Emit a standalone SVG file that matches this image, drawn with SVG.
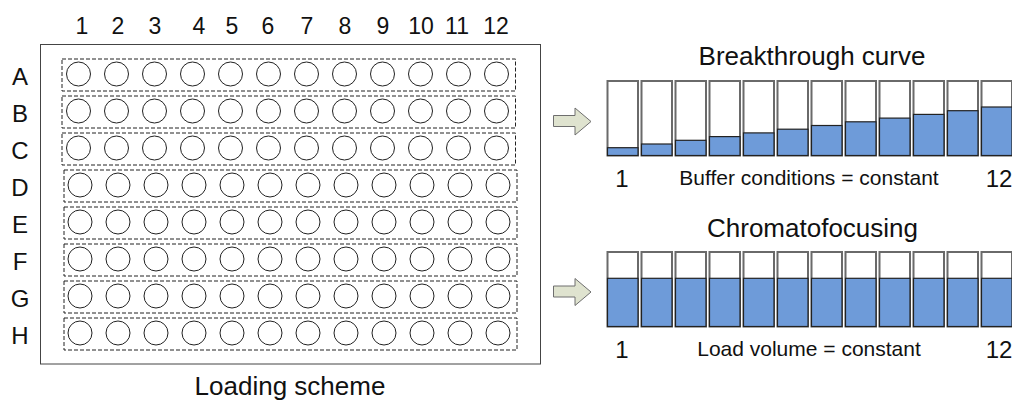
<svg xmlns="http://www.w3.org/2000/svg" width="1012" height="401" viewBox="0 0 1012 401">
<style>
text{font-family:"Liberation Sans",Arial,sans-serif;fill:#111}
.lbl{font-size:23px;text-anchor:middle}
.rl{font-size:24px;text-anchor:middle}
.ttl{font-size:26px;text-anchor:middle}
.sub{font-size:21px;text-anchor:middle}
.row{fill:none;stroke:#222;stroke-width:1;stroke-dasharray:4 2}
.well{fill:#fff;stroke:#222;stroke-width:1}
.bar{fill:#fff;stroke:#6a6a6a;stroke-width:2}
.liq{fill:#6e9bd9;stroke:#222;stroke-width:1.2}
.arr{fill:#dfe3cf;stroke:#6e6e6e;stroke-width:1}
</style>
<rect width="1012" height="401" fill="#fff"/>
<g id="plate">
<rect x="40.5" y="44.5" width="500" height="319.5" fill="#fff" stroke="#444" stroke-width="1"/>
<g id="col-labels">
<text class="lbl" x="82" y="33.5">1</text>
<text class="lbl" x="118" y="33.5">2</text>
<text class="lbl" x="155" y="33.5">3</text>
<text class="lbl" x="199" y="33.5">4</text>
<text class="lbl" x="232" y="33.5">5</text>
<text class="lbl" x="268" y="33.5">6</text>
<text class="lbl" x="307" y="33.5">7</text>
<text class="lbl" x="345" y="33.5">8</text>
<text class="lbl" x="383" y="33.5">9</text>
<text class="lbl" x="421" y="33.5">10</text>
<text class="lbl" x="457" y="33.5">11</text>
<text class="lbl" x="496" y="33.5">12</text>
</g>
<g id="row-labels">
<text class="rl" x="20" y="84.5">A</text>
<text class="rl" x="20" y="121.5">B</text>
<text class="rl" x="20" y="158.5">C</text>
<text class="rl" x="20" y="195.5">D</text>
<text class="rl" x="20" y="232.5">E</text>
<text class="rl" x="20" y="269.5">F</text>
<text class="rl" x="20" y="306.5">G</text>
<text class="rl" x="20" y="344">H</text>
</g>
<g id="rows">
<rect class="row" x="62" y="59" width="453.5" height="32"/>
<rect class="row" x="62" y="96" width="453.5" height="32"/>
<rect class="row" x="62" y="133" width="453.5" height="32"/>
<rect class="row" x="64" y="170" width="453" height="32"/>
<rect class="row" x="64" y="207" width="453" height="32"/>
<rect class="row" x="64" y="244" width="453" height="32"/>
<rect class="row" x="64" y="281" width="453" height="32"/>
<rect class="row" x="64" y="318" width="453" height="32"/>
</g>
<g id="wells">
<g id="wellrow">
<circle class="well" cx="78.5" cy="74" r="12"/>
<circle class="well" cx="116.5" cy="74" r="12"/>
<circle class="well" cx="154.5" cy="74" r="12"/>
<circle class="well" cx="192.5" cy="74" r="12"/>
<circle class="well" cx="230.5" cy="74" r="12"/>
<circle class="well" cx="268.5" cy="74" r="12"/>
<circle class="well" cx="306.5" cy="74" r="12"/>
<circle class="well" cx="344.5" cy="74" r="12"/>
<circle class="well" cx="382.5" cy="74" r="12"/>
<circle class="well" cx="420.5" cy="74" r="12"/>
<circle class="well" cx="458.5" cy="74" r="12"/>
<circle class="well" cx="496.5" cy="74" r="12"/>
</g>
<use href="#wellrow" y="37"/>
<use href="#wellrow" y="74"/>
<use href="#wellrow" x="1.5" y="111"/>
<use href="#wellrow" x="1.5" y="148"/>
<use href="#wellrow" x="1.5" y="185"/>
<use href="#wellrow" x="1.5" y="222"/>
<use href="#wellrow" x="1.5" y="259"/>
</g>
<text class="ttl" x="290" y="395">Loading scheme</text>
</g>
<g id="connectors">
<polygon class="arr" points="553.5,115.5 575,115.5 575,108 591,121.5 575,135 575,126.5 553.5,126.5"/>
<polygon class="arr" points="553.5,286 575,286 575,278.5 591,292 575,305.5 575,297 553.5,297"/>
</g>
<g id="breakthrough">
<text class="ttl" x="812" y="65">Breakthrough curve</text>
<rect class="bar" x="607.5" y="81" width="30.5" height="74.5"/>
<rect class="bar" x="641.5" y="81" width="30.5" height="74.5"/>
<rect class="bar" x="675.5" y="81" width="30.5" height="74.5"/>
<rect class="bar" x="709.5" y="81" width="30.5" height="74.5"/>
<rect class="bar" x="743.5" y="81" width="30.5" height="74.5"/>
<rect class="bar" x="777.5" y="81" width="30.5" height="74.5"/>
<rect class="bar" x="811.5" y="81" width="30.5" height="74.5"/>
<rect class="bar" x="845.5" y="81" width="30.5" height="74.5"/>
<rect class="bar" x="879.5" y="81" width="30.5" height="74.5"/>
<rect class="bar" x="913.5" y="81" width="30.5" height="74.5"/>
<rect class="bar" x="947.5" y="81" width="30.5" height="74.5"/>
<rect class="bar" x="981.5" y="81" width="30.5" height="74.5"/>
<rect class="liq" x="607.5" y="147.7" width="30.5" height="7.8"/>
<rect class="liq" x="641.5" y="144" width="30.5" height="11.5"/>
<rect class="liq" x="675.5" y="140.3" width="30.5" height="15.2"/>
<rect class="liq" x="709.5" y="136.6" width="30.5" height="18.9"/>
<rect class="liq" x="743.5" y="132.9" width="30.5" height="22.6"/>
<rect class="liq" x="777.5" y="129.2" width="30.5" height="26.3"/>
<rect class="liq" x="811.5" y="125.5" width="30.5" height="30"/>
<rect class="liq" x="845.5" y="121.8" width="30.5" height="33.7"/>
<rect class="liq" x="879.5" y="118.1" width="30.5" height="37.4"/>
<rect class="liq" x="913.5" y="114.4" width="30.5" height="41.1"/>
<rect class="liq" x="947.5" y="110.7" width="30.5" height="44.8"/>
<rect class="liq" x="981.5" y="107" width="30.5" height="48.5"/>
<text class="rl" x="622" y="187">1</text>
<text class="sub" x="809" y="185">Buffer conditions = constant</text>
<text class="rl" x="999" y="187">12</text>
</g>
<g id="chromatofocusing">
<text class="ttl" x="812.5" y="237">Chromatofocusing</text>
<rect class="bar" x="607.5" y="252" width="30.5" height="74.5"/>
<rect class="bar" x="641.5" y="252" width="30.5" height="74.5"/>
<rect class="bar" x="675.5" y="252" width="30.5" height="74.5"/>
<rect class="bar" x="709.5" y="252" width="30.5" height="74.5"/>
<rect class="bar" x="743.5" y="252" width="30.5" height="74.5"/>
<rect class="bar" x="777.5" y="252" width="30.5" height="74.5"/>
<rect class="bar" x="811.5" y="252" width="30.5" height="74.5"/>
<rect class="bar" x="845.5" y="252" width="30.5" height="74.5"/>
<rect class="bar" x="879.5" y="252" width="30.5" height="74.5"/>
<rect class="bar" x="913.5" y="252" width="30.5" height="74.5"/>
<rect class="bar" x="947.5" y="252" width="30.5" height="74.5"/>
<rect class="bar" x="981.5" y="252" width="30.5" height="74.5"/>
<rect class="liq" x="607.5" y="278.3" width="30.5" height="48.2"/>
<rect class="liq" x="641.5" y="278.3" width="30.5" height="48.2"/>
<rect class="liq" x="675.5" y="278.3" width="30.5" height="48.2"/>
<rect class="liq" x="709.5" y="278.3" width="30.5" height="48.2"/>
<rect class="liq" x="743.5" y="278.3" width="30.5" height="48.2"/>
<rect class="liq" x="777.5" y="278.3" width="30.5" height="48.2"/>
<rect class="liq" x="811.5" y="278.3" width="30.5" height="48.2"/>
<rect class="liq" x="845.5" y="278.3" width="30.5" height="48.2"/>
<rect class="liq" x="879.5" y="278.3" width="30.5" height="48.2"/>
<rect class="liq" x="913.5" y="278.3" width="30.5" height="48.2"/>
<rect class="liq" x="947.5" y="278.3" width="30.5" height="48.2"/>
<rect class="liq" x="981.5" y="278.3" width="30.5" height="48.2"/>
<text class="rl" x="622" y="358">1</text>
<text class="sub" x="809" y="356">Load volume = constant</text>
<text class="rl" x="999" y="358">12</text>
</g>
</svg>
